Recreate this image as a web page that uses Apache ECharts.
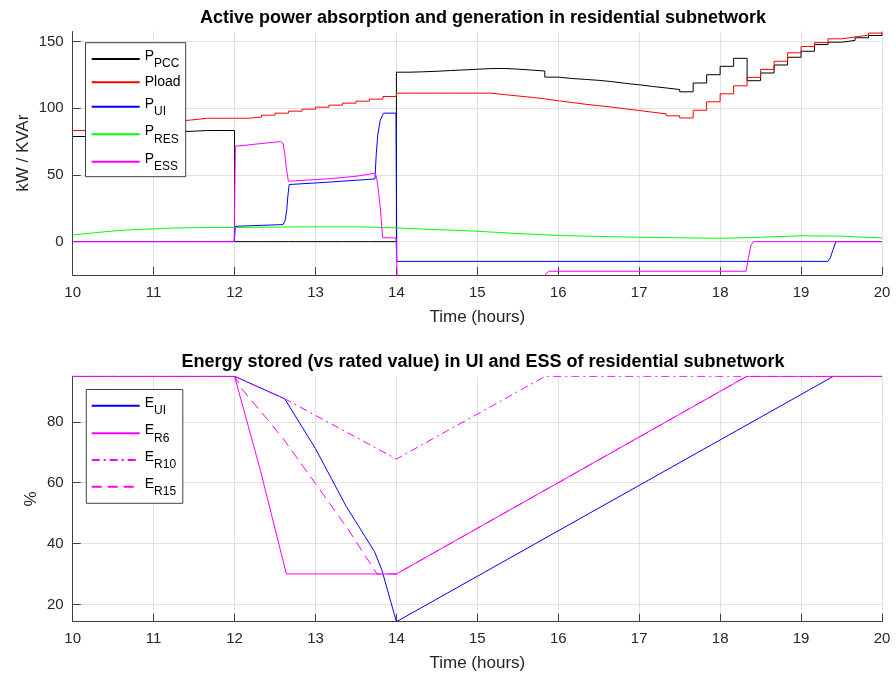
<!DOCTYPE html>
<html><head><meta charset="utf-8">
<script src="https://cdn.jsdelivr.net/npm/echarts@6/dist/echarts.min.js"></script>
<style>html,body{margin:0;padding:0;background:#fff}#c{width:896px;height:675px}</style>
</head><body><div id="c"></div>
<script>
const FONT = '"Liberation Sans", Arial, Helvetica, sans-serif';

// ---------- Top chart: 10-minute samples (10:00 .. 20:00) ----------
const stepTimes = Array.from({length: 61}, (_, k) => 10 + k / 6);
const pLoad10 = [83.3, 84.3, 85.3, 86.4, 87.4, 88.4, 89.4, 90.4, 91.4, 92.5,
  92.5, 92.5, 92.5, 93.3, 94.8, 96.3, 97.8, 99.3, 100.8, 102.3,
  103.8, 105.3, 106.8, 108.8, 111.3, 111.3, 111.3, 111.3, 111.3, 111.3,
  111.3, 110.2, 109.2, 108.2, 107.0, 105.6, 104.3, 103.0, 101.9, 100.8,
  99.5, 98.3, 97.0, 95.8, 94.3, 92.7, 98.5, 104.8, 110.8, 116.8,
  123.1, 129.1, 135.2, 141.5, 146.2, 149.2, 152.0, 153.4, 154.8, 156.3, 157.5];
const pPcc10 = [78.8, 79.4, 80.0, 80.6, 81.1, 81.6, 82.0, 82.4, 82.8, 83.3,
  83.3, 83.3, 0, 0, 0, 0, 0, 0, 0, 0,
  0, 0, 0, 0, 127.0, 127.3, 127.7, 128.2, 128.7, 129.2,
  129.7, 129.8, 129.3, 128.6, 127.9, 123.3, 122.3, 121.6, 120.9, 119.9,
  118.6, 117.6, 116.3, 115.2, 114.0, 112.3, 118.9, 125.1, 131.4, 137.4,
  120.6, 126.4, 132.4, 138.2, 142.7, 147.7, 149.5, 150.8, 152.8, 154.5, 156.3];

const resT = [10, 10.25, 10.5, 10.75, 11, 11.25, 11.5, 12, 12.5, 13, 13.5, 14, 14.5, 15, 15.5, 16, 16.5, 17, 17.5, 18, 18.5, 19, 19.5, 20];
const resV = [5, 6.5, 8, 9, 9.6, 10.2, 10.5, 10.6, 10.9, 11.1, 11.1, 10.3, 9, 7.8, 6.1, 4.6, 3.9, 3.3, 2.9, 2.5, 3.3, 4.4, 4.1, 2.8];

const uiT = [10, 11.995, 12.01, 12.6, 12.625, 12.645, 12.66, 12.675, 13.14, 13.735, 13.75, 13.77, 13.8, 13.84, 13.995, 14.005, 19.33, 19.36, 19.395, 19.43, 20];
const uiV = [0, 0, 11.5, 12.8, 16, 24, 35, 42.8, 44.5, 47, 65, 80, 91, 96.3, 96.3, -14.8, -14.8, -12.3, -6, 0, 0];

const essT = [10, 11.995, 12.01, 12.57, 12.6, 12.62, 12.64, 12.665, 13.14, 13.5, 13.74, 13.76, 13.78, 13.8, 13.83, 13.995, 14.01, 15.8, 15.88, 18.32, 18.35, 18.38, 18.41, 20];
const essV = [0, 0, 71.5, 75, 73.5, 66, 55, 45.3, 47, 49, 51.3, 46, 37, 26, 3, 2.7, -27, -27, -22.2, -22.2, -12, -3, 0, 0];

// ---------- Bottom chart ----------
const eUiT = [10, 12.0, 12.62, 13.0, 13.38, 13.73, 13.82, 14.0, 19.4, 20];
const eUiV = [95, 95, 87.6, 71.2, 52.2, 37.3, 31.3, 14.3, 95, 95];
const eR6T = [10, 12.0, 12.32, 12.64, 14.0, 18.33, 20];
const eR6V = [95, 95, 64, 30, 30, 95, 95];
const eR10T = [10, 12.0, 12.62, 14.0, 15.84, 20];
const eR10V = [95, 95, 87.6, 67.8, 95, 95];
const eR15T = [10, 12.0, 12.1, 12.4, 12.6, 13.0, 13.4, 13.76, 14.0, 18.33, 20];
const eR15V = [95, 95, 90.5, 81, 74.5, 59.7, 44.8, 30, 30, 95, 95];

const topTicks = [0, 50, 100, 150];
const botTicks = [20, 40, 60, 80];

const pair = (ts, vs) => ts.map((t, i) => [t, vs[i]]);

const labels = {
  'P_PCC': '{m|P}{s|PCC}', 'Pload': 'Pload', 'P_UI': '{m|P}{s|UI}', 'P_RES': '{m|P}{s|RES}', 'P_ESS': '{m|P}{s|ESS}',
  'E_UI': '{m|E}{s|UI}', 'E_R6': '{m|E}{s|R6}', 'E_R10': '{m|E}{s|R10}', 'E_R15': '{m|E}{s|R15}'
};
const RICH = {
  m: {fontFamily: FONT, fontSize: 14, color: '#000', padding: [0, 0, 6, 0]},
  s: {fontFamily: FONT, fontSize: 12, color: '#000', padding: [10, 0, 0, 0]}
};

function xAxisCfg(gi, gap) {
  return {type: 'value', gridIndex: gi, min: 10, max: 20, interval: 1,
    name: 'Time (hours)', nameLocation: 'middle', nameGap: gap, nameMoveOverlap: false,
    nameTextStyle: {fontFamily: FONT, fontSize: 17, color: '#262626'},
    axisLine: {onZero: false, lineStyle: {color: '#404040', width: 1}},
    axisTick: {inside: true, length: 8, lineStyle: {color: '#404040'}},
    axisLabel: {fontFamily: FONT, fontSize: 15, color: '#262626', margin: 10},
    splitLine: {show: true, lineStyle: {color: '#e2e2e2', width: 1}}
  };
}
function yAxisCfg(gi, min, max, step, ticks, name, gap) {
  return {type: 'value', gridIndex: gi, min, max, minInterval: step, maxInterval: step,
    name, nameLocation: 'middle', nameGap: gap, nameMoveOverlap: false,
    nameTextStyle: {fontFamily: FONT, fontSize: 17, color: '#262626'},
    axisLine: {show: true, onZero: false, lineStyle: {color: '#404040', width: 1}},
    axisTick: {show: true, inside: true, length: 8, customValues: ticks, lineStyle: {color: '#404040'}},
    axisLabel: {fontFamily: FONT, fontSize: 15, color: '#262626', margin: 9, customValues: ticks},
    splitLine: {show: true, lineStyle: {color: '#e2e2e2', width: 1}}
  };
}
function line(name, gi, data, color, type) {
  return {type: 'line', name, xAxisIndex: gi, yAxisIndex: gi, data, symbol: 'none', showSymbol: false,
    lineStyle: {color, width: 1, type: type || 'solid'}, itemStyle: {color}, clip: true,
    emphasis: {disabled: true}, silent: true, animation: false};
}
function stepLine(name, vals, color) {
  const s = line(name, 0, pair(stepTimes, vals), color);
  s.step = 'end';
  return s;
}
function leg(name, top) {
  return {data: [name], left: 90.7, top, orient: 'vertical', padding: 0, itemWidth: 48, itemHeight: 14,
    itemGap: 0, selectedMode: false, formatter: n => labels[n], z: 20,
    itemStyle: {opacity: 0, color: 'rgba(0,0,0,0)', borderColor: 'rgba(0,0,0,0)', borderWidth: 0},
    textStyle: {fontFamily: FONT, fontSize: 14, color: '#000', rich: RICH}};
}

const option = {
  animation: false,
  backgroundColor: '#fff',
  title: [
    {text: 'Active power absorption and generation in residential subnetwork', left: 483, top: 9, textAlign: 'center', padding: 0,
      textStyle: {fontFamily: FONT, fontSize: 18, fontWeight: 'bold', color: '#000'}},
    {text: 'Energy stored (vs rated value) in UI and ESS of residential subnetwork', left: 483, top: 353, textAlign: 'center', padding: 0,
      textStyle: {fontFamily: FONT, fontSize: 18, fontWeight: 'bold', color: '#000'}}
  ],
  grid: [
    {left: 72.7, top: 31.5, width: 809.3, height: 243.5},
    {left: 72.7, top: 376.3, width: 809.3, height: 245.4}
  ],
  xAxis: [xAxisCfg(0, 34), xAxisCfg(1, 33)],
  yAxis: [yAxisCfg(0, -25, 157.5, 50, topTicks, 'kW / KVAr', 41), yAxisCfg(1, 14.3, 95, 20, botTicks, '%', 33)],
  graphic: {elements: [
    {type: 'rect', z: 10, shape: {x: 85.5, y: 42.7, width: 100.2, height: 134}, style: {fill: '#fff', stroke: '#404040', lineWidth: 1}},
    {type: 'rect', z: 10, shape: {x: 86.3, y: 389.5, width: 96.5, height: 113.8}, style: {fill: '#fff', stroke: '#404040', lineWidth: 1}}
  ]},
  legend: [
    leg('P_PCC', 59 - 10), leg('Pload', 82.3 - 7), leg('P_UI', 106.7 - 10), leg('P_RES', 134.3 - 10), leg('P_ESS', 161.7 - 10),
    leg('E_UI', 405.7 - 10), leg('E_R6', 433.3 - 10), leg('E_R10', 460 - 10), leg('E_R15', 486.7 - 10)
  ],
  series: [
    stepLine('P_PCC', pPcc10, '#000000'),
    stepLine('Pload', pLoad10, '#ff0000'),
    line('P_UI', 0, pair(uiT, uiV), '#0000ff'),
    line('P_RES', 0, pair(resT, resV), '#00ff00'),
    line('P_ESS', 0, pair(essT, essV), '#ff00ff'),
    line('E_UI', 1, pair(eUiT, eUiV), '#0000ff'),
    line('E_R6', 1, pair(eR6T, eR6V), '#ff00ff'),
    line('E_R10', 1, pair(eR10T, eR10V), '#ff00ff', [8, 4, 2, 4]),
    line('E_R15', 1, pair(eR15T, eR15V), '#ff00ff', [10, 6])
  ]
};
const chart = echarts.init(document.getElementById('c'), null, {renderer: 'canvas'});
chart.setOption(option);
</script></body></html>
